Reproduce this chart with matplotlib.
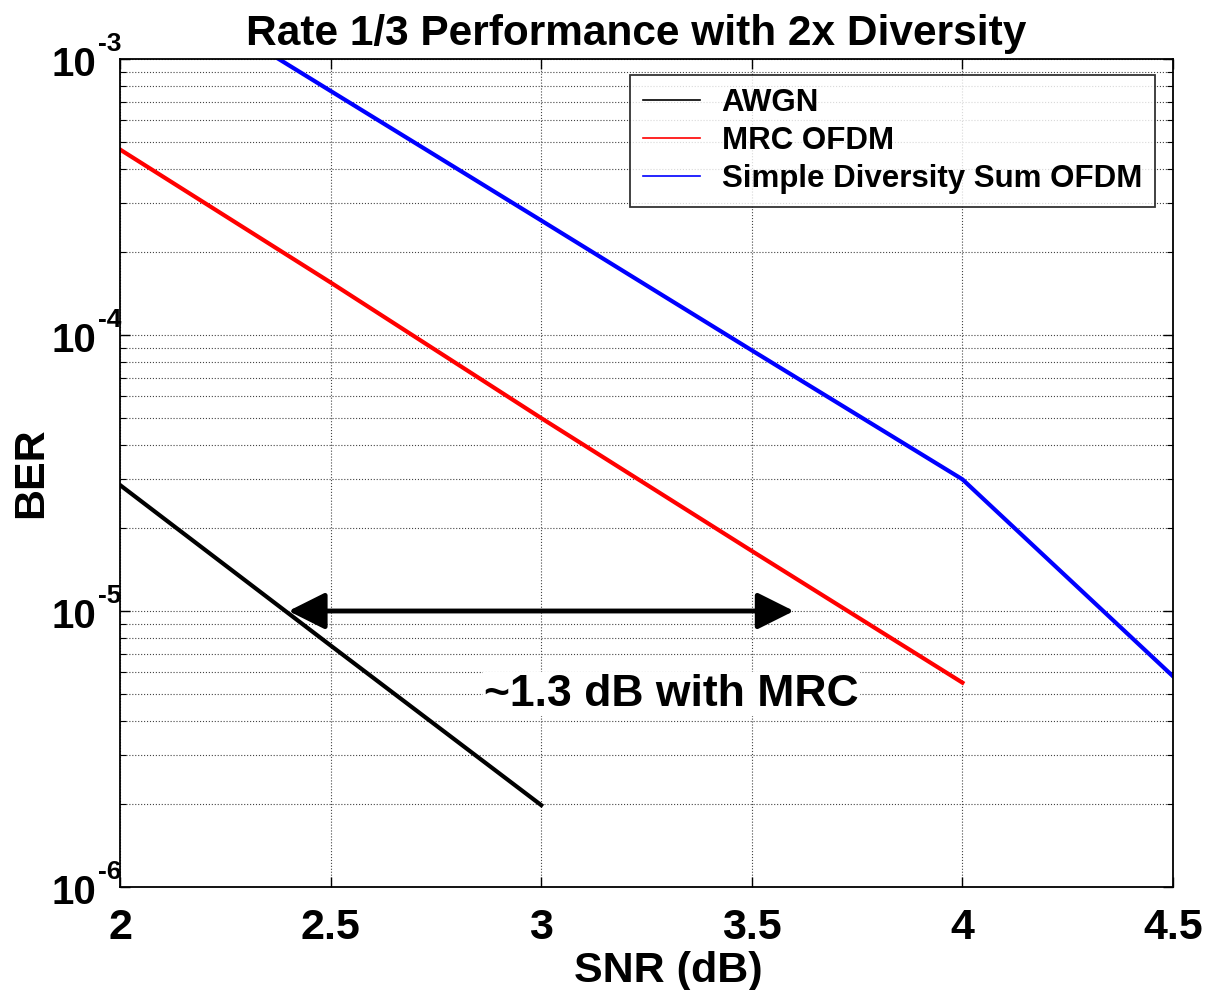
import numpy as np
import matplotlib
matplotlib.use('Agg')
import matplotlib.pyplot as plt
import matplotlib.transforms as mtransforms
from matplotlib.ticker import LogLocator, FixedLocator, NullFormatter

plt.rcParams['font.family'] = ['Liberation Sans', 'DejaVu Sans']
plt.rcParams['font.weight'] = 'bold'

# %% data
snr_awgn = [2.0, 2.5, 3.0]
ber_awgn = [2.86e-5, 7.5e-6, 1.98e-6]

snr_mrc = [2.0, 2.5, 3.0, 3.5, 4.0]
ber_mrc = [4.7e-4, 1.55e-4, 5.0e-5, 1.65e-5, 5.5e-6]

snr_sum = [2.0, 2.5, 3.0, 3.5, 4.0, 4.5]
ber_sum = [2.26e-3, 7.66e-4, 2.6e-4, 8.8e-5, 3.0e-5, 5.8e-6]

x_ticks = [2, 2.5, 3, 3.5, 4, 4.5]
x_tick_labels = ['2', '2.5', '3', '3.5', '4', '4.5']
y_ticks = [1e-6, 1e-5, 1e-4, 1e-3]
y_exponents = ['-6', '-5', '-4', '-3']

arrow_x = [2.4, 3.6]
arrow_y = 1e-5
note_text = '~1.3 dB with MRC'
note_pos = (3.31, 5.0e-6)

# %% figure
fig = plt.figure(figsize=(12.13, 9.9), dpi=100)
ax = fig.add_axes([120/1213, 1 - 887/990, 1053/1213, 828/990])

ax.semilogy(snr_awgn, ber_awgn, color='black', lw=3, label='AWGN')
ax.semilogy(snr_mrc, ber_mrc, color='red', lw=3, label='MRC OFDM')
ax.semilogy(snr_sum, ber_sum, color='blue', lw=3, label='Simple Diversity Sum OFDM')

ax.set_xlim(2, 4.5)
ax.set_ylim(1e-6, 1e-3)

ax.xaxis.set_major_locator(FixedLocator(x_ticks))
ax.set_xticklabels(x_tick_labels)
ax.yaxis.set_major_locator(FixedLocator(y_ticks))
ax.set_yticklabels([])
ax.yaxis.set_minor_locator(LogLocator(base=10, subs=np.arange(2, 10)))
ax.yaxis.set_minor_formatter(NullFormatter())

ax.tick_params(which='both', direction='in', top=True, right=True)
ax.tick_params(axis='x', labelsize=31, pad=15)
ax.tick_params(which='major', length=7, width=1)
ax.tick_params(which='minor', length=4, width=0.8)

ax.grid(True, which='major', axis='x', linestyle=':', color='#444444', lw=0.8)
ax.grid(True, which='both', axis='y', linestyle=':', color='#444444', lw=0.8)
for s in ax.spines.values():
    s.set_linewidth(1.3)

# MATLAB style 10^x labels, exponent up at the right of the 10
trans = mtransforms.blended_transform_factory(ax.transAxes, ax.transData)
base_tr = mtransforms.offset_copy(trans, fig=fig, x=-24, y=-6, units='dots')
exp_tr = mtransforms.offset_copy(trans, fig=fig, x=-22, y=8, units='dots')
for yv, ex in zip(y_ticks, y_exponents):
    ax.text(0, yv, '10', transform=base_tr, fontsize=29, fontweight='bold',
            ha='right', va='center', clip_on=False)
    ax.text(0, yv, ex, transform=exp_tr, fontsize=19, fontweight='bold',
            ha='left', va='baseline', clip_on=False)

# double arrow
ax.annotate('', xy=(arrow_x[0], arrow_y), xytext=(arrow_x[1], arrow_y),
            arrowprops=dict(arrowstyle='<|-|>,head_length=0.5,head_width=0.25',
                            color='black', lw=3.5, mutation_scale=45,
                            shrinkA=0, shrinkB=0))
ax.text(note_pos[0], note_pos[1], note_text, fontsize=32, fontweight='bold',
        ha='center', va='center',
        bbox=dict(facecolor='white', edgecolor='none', pad=1))

ax.set_title('Rate 1/3 Performance with 2x Diversity', fontsize=30.5,
             fontweight='bold', pad=10, x=0.49)
ax.set_xlabel('SNR (dB)', fontsize=31, fontweight='bold', labelpad=2, x=0.521)
ax.set_ylabel('BER', fontsize=31, fontweight='bold', labelpad=46)

leg = ax.legend(loc='upper right', bbox_to_anchor=(0.983, 0.981), fontsize=22.5,
                frameon=True, fancybox=False, edgecolor='black', handlelength=1.8,
                borderpad=0.42, labelspacing=0.26, handletextpad=0.7, borderaxespad=0)
leg.get_frame().set_linewidth(1.3)
for line in leg.get_lines():
    line.set_linewidth(1.2)

fig.savefig('out.png', dpi=100)
